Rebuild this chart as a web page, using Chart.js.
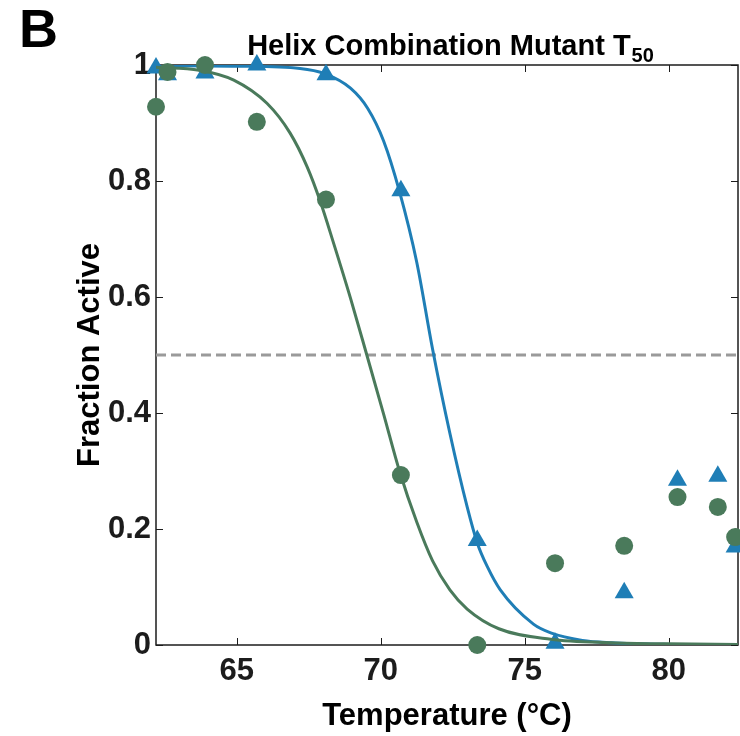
<!DOCTYPE html>
<html lang="en">
<head>
    <meta charset="UTF-8">
    <title>Helix Combination Mutant T50</title>
    <style>
        body {
            margin: 0;
            padding: 0;
            background: #fff;
        }
        canvas {
            display: block;
        }
    </style>
</head>
<body>
    <canvas id="t50Chart" width="740" height="736"></canvas>

    <script src="https://cdn.jsdelivr.net/npm/chart.js"></script>
    <script>
        // Measured temperatures (°C)
        const temperatures = [62.2, 62.6, 63.9, 65.7, 68.1, 70.7, 73.35, 76.05, 78.45, 80.3, 81.7, 82.3];
        // Green circles
        const circleActive = [0.928, 0.988, 1.0, 0.902, 0.768, 0.293, 0.0, 0.141, 0.171, 0.255, 0.238, 0.186];
        // Blue triangles
        const triangleActive = [0.995, 0.983, 0.986, 1.0, 0.983, 0.783, 0.18, 0.003, 0.09, 0.284, 0.291, 0.169];

        // Fitted curves
        const circleFitX = [62.2, 63.7, 64.9, 66.05, 66.85, 67.45, 67.9, 68.35, 68.95, 69.5, 70.1, 70.65, 71.25, 71.8, 72.4, 73.0, 74.1, 75.9, 78.0, 80.0, 82.4];
        const circleFitY = [0.996, 0.991, 0.974, 0.934, 0.883, 0.824, 0.765, 0.695, 0.598, 0.503, 0.398, 0.300, 0.212, 0.145, 0.095, 0.062, 0.028, 0.010, 0.004, 0.002, 0.001];
        const triangleFitX = [62.2, 65.0, 67.2, 68.05, 68.95, 69.55, 70.1, 70.65, 71.25, 71.8, 72.4, 73.0, 73.35, 73.7, 74.15, 75.3, 75.9, 77.0, 78.0, 80.0, 82.4];
        const triangleFitY = [0.999, 0.998, 0.994, 0.985, 0.960, 0.925, 0.869, 0.782, 0.660, 0.510, 0.365, 0.238, 0.176, 0.135, 0.095, 0.036, 0.021, 0.008, 0.004, 0.001, 0.0];

        const halfActive = 0.5;
        const xRange = [62.2, 82.4];
        const xTicks = [65, 70, 75, 80];
        const yTicks = [0, 0.2, 0.4, 0.6, 0.8, 1];

        const green = '#4a7a5b';
        const blue = '#1f7eb6';
        const ink = '#1c1c1c';

        const toPoints = (xs, ys) => xs.map((x, i) => ({x: x, y: ys[i]}));

        Chart.defaults.font.family = "'Liberation Sans', Arial, sans-serif";
        Chart.defaults.font.weight = 'bold';
        Chart.defaults.color = ink;

        // box round the plot with inward ticks on all four sides
        const framePlugin = {
            id: 'frame',
            beforeDatasetsDraw(chart) {
                const {ctx, chartArea: a, scales} = chart;
                ctx.save();
                ctx.strokeStyle = ink;
                ctx.lineWidth = 1.5;
                ctx.strokeRect(a.left, a.top, a.right - a.left, a.bottom - a.top);
                ctx.lineWidth = 1;
                const len = 7;
                ctx.beginPath();
                scales.x.ticks.forEach(t => {
                    const px = Math.round(scales.x.getPixelForValue(t.value)) + 0.5;
                    ctx.moveTo(px, a.bottom); ctx.lineTo(px, a.bottom - len);
                    ctx.moveTo(px, a.top); ctx.lineTo(px, a.top + len);
                });
                scales.y.ticks.forEach(t => {
                    const py = Math.round(scales.y.getPixelForValue(t.value)) + 0.5;
                    ctx.moveTo(a.left, py); ctx.lineTo(a.left + len, py);
                    ctx.moveTo(a.right, py); ctx.lineTo(a.right - len, py);
                });
                ctx.stroke();
                ctx.restore();
            }
        };

        // panel letter and title with subscript
        const titlePlugin = {
            id: 'titleText',
            afterDraw(chart) {
                const {ctx, chartArea: a} = chart;
                ctx.save();
                ctx.fillStyle = '#000';
                ctx.textBaseline = 'alphabetic';
                ctx.font = "bold 54px 'Liberation Sans', Arial, sans-serif";
                ctx.textAlign = 'left';
                ctx.fillText('B', 19, 47);

                const main = 'Helix Combination Mutant T';
                const sub = '50';
                ctx.font = "bold 29px 'Liberation Sans', Arial, sans-serif";
                const wMain = ctx.measureText(main).width;
                ctx.font = "bold 20px 'Liberation Sans', Arial, sans-serif";
                const wSub = ctx.measureText(sub).width;
                const x0 = (a.left + a.right) / 2 - (wMain + wSub) / 2 + 3;
                ctx.font = "bold 29px 'Liberation Sans', Arial, sans-serif";
                ctx.fillText(main, x0, 55);
                ctx.font = "bold 20px 'Liberation Sans', Arial, sans-serif";
                ctx.fillText(sub, x0 + wMain + 1, 62);
                ctx.restore();
            }
        };

        const ctx = document.getElementById('t50Chart').getContext('2d');
        const t50Chart = new Chart(ctx, {
            type: 'scatter',
            data: {
                datasets: [
                    {
                        label: 'T50',
                        data: toPoints(xRange, [halfActive, halfActive]),
                        showLine: true,
                        borderColor: '#9a9a9a',
                        borderWidth: 3,
                        borderDash: [10, 5],
                        pointRadius: 0,
                        order: 5
                    },
                    {
                        label: 'Triangle fit',
                        data: toPoints(triangleFitX, triangleFitY),
                        showLine: true,
                        borderColor: blue,
                        borderWidth: 3,
                        pointRadius: 0,
                        cubicInterpolationMode: 'monotone',
                        order: 4
                    },
                    {
                        label: 'Triangles',
                        data: toPoints(temperatures, triangleActive),
                        pointStyle: 'triangle',
                        pointRadius: 11,
                        backgroundColor: blue,
                        borderColor: blue,
                        borderWidth: 0,
                        clip: false,
                        order: 3
                    },
                    {
                        label: 'Circle fit',
                        data: toPoints(circleFitX, circleFitY),
                        showLine: true,
                        borderColor: green,
                        borderWidth: 3,
                        pointRadius: 0,
                        cubicInterpolationMode: 'monotone',
                        order: 2
                    },
                    {
                        label: 'Circles',
                        data: toPoints(temperatures, circleActive),
                        pointStyle: 'circle',
                        pointRadius: 9,
                        backgroundColor: green,
                        borderColor: green,
                        borderWidth: 0,
                        clip: false,
                        order: 1
                    }
                ]
            },
            options: {
                responsive: false,
                animation: false,
                layout: {
                    autoPadding: false,
                    padding: {top: 65, right: 2, left: 0, bottom: 0}
                },
                plugins: {
                    legend: {display: false},
                    tooltip: {enabled: false}
                },
                scales: {
                    x: {
                        type: 'linear',
                        min: xRange[0],
                        max: xRange[1],
                        afterBuildTicks: scale => { scale.ticks = xTicks.map(v => ({value: v})); },
                        afterFit: scale => { scale.height = 91; },
                        grid: {display: false, drawTicks: false},
                        border: {display: false},
                        ticks: {
                            padding: 8,
                            font: {size: 31, weight: 'bold'},
                            color: ink
                        },
                        title: {
                            display: true,
                            text: 'Temperature (°C)',
                            font: {size: 31, weight: 'bold'},
                            color: '#000',
                            padding: {top: 0, bottom: 1}
                        }
                    },
                    y: {
                        type: 'linear',
                        min: 0,
                        max: 1,
                        afterBuildTicks: scale => { scale.ticks = yTicks.map(v => ({value: v})); },
                        afterFit: scale => { scale.width = 156; },
                        grid: {display: false, drawTicks: false},
                        border: {display: false},
                        ticks: {
                            padding: 5,
                            font: {size: 31, weight: 'bold'},
                            color: ink,
                            callback: v => (v === 0 || v === 1) ? String(v) : v.toFixed(1)
                        },
                        title: {
                            display: true,
                            text: 'Fraction Active',
                            font: {size: 31, weight: 'bold'},
                            color: '#000',
                            padding: {top: 72, bottom: 0}
                        }
                    }
                }
            },
            plugins: [framePlugin, titlePlugin]
        });
    </script>
</body>
</html>
